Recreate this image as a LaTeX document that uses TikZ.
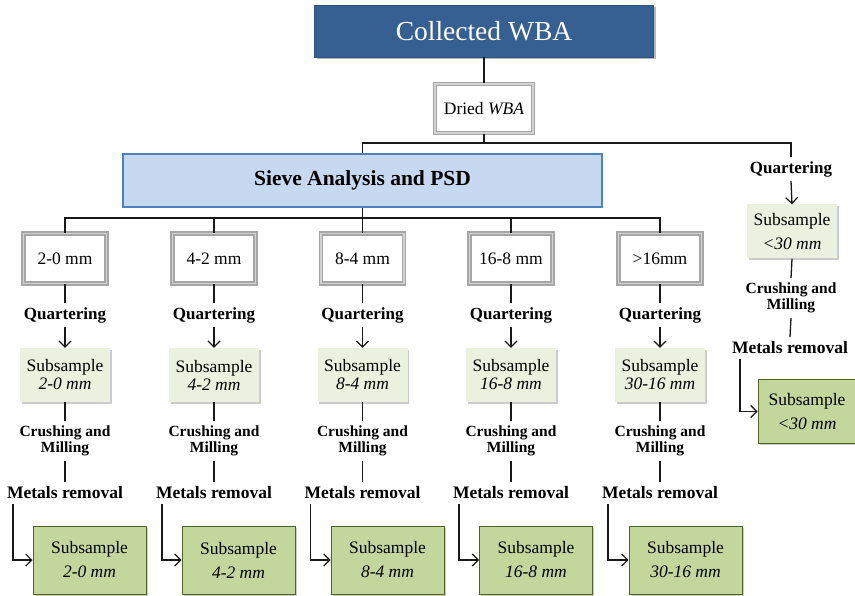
\documentclass[tikz,border=0pt]{standalone}
\usepackage{fontspec}
\setmainfont{Liberation Serif}
\usetikzlibrary{arrows.meta,shadows}
\definecolor{darkblue}{HTML}{366092}
\definecolor{sievefill}{HTML}{C6D9F1}
\definecolor{sieveline}{HTML}{4F81BD}
\definecolor{lightgreen}{HTML}{EBF1DE}
\definecolor{midgreen}{HTML}{C3D69B}
\definecolor{olivegreen}{HTML}{4F6228}
\tikzset{
 conn/.style={line width=1.3pt, draw=black!90},
 arr/.style={conn, -{Straight Barb[length=6pt,width=12pt,line width=1.2pt]}},
 shad/.style={drop shadow={shadow xshift=2pt,shadow yshift=-2.5pt,opacity=0.28,fill=black}},
 lshad/.style={drop shadow={shadow xshift=1.5pt,shadow yshift=-2pt,opacity=0.2,fill=black}},
 topbox/.style={fill=darkblue, draw=darkblue!85!black, line width=0.6pt, minimum width=339pt, minimum height=52pt, text=white, font=\fontsize{27.5}{30}\selectfont, shad},
 framebox/.style={fill=white, draw=gray!70, double=gray!35, double distance=1.6pt, line width=1.4pt, font=\fontsize{17.5}{20}\selectfont, lshad},
 sievebox/.style={fill=sievefill, draw=sieveline, line width=1.2pt, minimum width=479pt, minimum height=53pt, font=\bfseries\fontsize{21.5}{24}\selectfont},
 qlab/.style={font=\bfseries\fontsize{17}{20}\selectfont, inner sep=4pt},
 clab/.style={font=\bfseries\fontsize{15.5}{16}\selectfont, align=center, inner sep=4.5pt},
 mlab/.style={font=\bfseries\fontsize{17.5}{20}\selectfont, inner sep=4.5pt},
 subA/.style={fill=lightgreen, draw=none, minimum width=90pt, minimum height=54pt, align=center, font=\fontsize{17.5}{18}\selectfont, lshad},
 subB/.style={fill=midgreen, draw=olivegreen, line width=1pt, minimum width=113pt, minimum height=68pt, align=center, font=\fontsize{17.5}{24}\selectfont, lshad},
}
\begin{document}
\begin{tikzpicture}[x=1pt,y=-1pt]
\useasboundingbox[fill=white] (0,0) rectangle (855,596);
% top
\node[topbox] (coll) at (484,31) {Collected WBA};
\node[framebox, minimum width=98pt, minimum height=49pt] (dried) at (484,108.5) {Dried \textit{WBA}};
\node[sievebox] (sieve) at (362.5,180.5) {Sieve Analysis and PSD};
\coordinate (j1) at (484,143);
\coordinate (j2) at (362.5,218);
% right branch
\node[qlab] (rq) at (791,169) {Quartering};
\node[subA, font=\fontsize{17.5}{24}\selectfont] (rs) at (792,231.5) {Subsample\\\textit{<30 mm}};
\node[clab] (rc) at (791,298) {Crushing and\\Milling};
\node[mlab] (rm) at (790,348) {Metals removal};
\node[subB, minimum width=98pt, minimum height=63pt] (rf) at (807,411.5) {Subsample\\\textit{<30 mm}};
% columns
\foreach \i/\cx/\fx/\sz/\sb in {1/65/89.5/2-0 mm/2-0, 2/214/238.5/4-2 mm/4-2, 3/362.5/387.5/8-4 mm/8-4, 4/511/536/16-8 mm/16-8, 5/660/685.5/{>16mm}/30-16}{
  \node[framebox, minimum width=83pt, minimum height=50pt] (s\i) at (\cx,258.5) {\sz};
  \node[qlab] (q\i) at (\cx,315) {Quartering};
  \node[subA] (a\i) at (\cx,375) {Subsample\\\textit{\sb\ mm}};
  \node[clab] (c\i) at (\cx,441) {Crushing and\\Milling};
  \node[mlab] (m\i) at (\cx,493) {Metals removal};
  \node[subB] (f\i) at (\fx,560) {Subsample\\\textit{\sb\ mm}};
  \draw[conn] (j2) -| (s\i.north);
  \draw[conn] (s\i.south) -- (q\i.north);
  \draw[arr] (q\i.south) -- (a\i.north);
  \draw[conn] (a\i.south) -- (c\i.north);
  \draw[conn] (c\i.south) -- (m\i.north);
  \draw[arr] ([xshift=-52pt]m\i.south) |- (f\i.west);
}
% top connectors
\draw[conn] (coll.south) -- (dried.north);
\draw[conn] (dried.south) -- (j1);
\draw[conn] (sieve.north) |- (j1) -| (rq.north);
\draw[conn] (sieve.south) -- (j2);
\draw[arr] (rq.south) -- (rs.north);
\draw[conn] (rs.south) -- (rc.north);
\draw[conn] (rc.south) -- (rm.north);
\draw[arr] ([xshift=-50pt]rm.south) |- (rf.west);
\end{tikzpicture}
\end{document}
